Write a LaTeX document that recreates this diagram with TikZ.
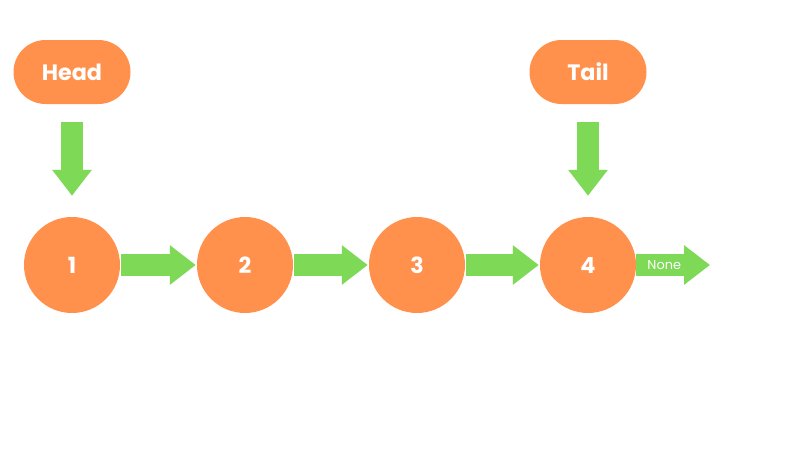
\documentclass[tikz,border=0pt]{standalone}
\usepackage{fontspec}
\setmainfont{Poppins}
\usetikzlibrary{arrows.meta, positioning}
\definecolor{nodeorange}{HTML}{FF914D}
\definecolor{arrowgreen}{HTML}{7ED957}

\begin{document}
\begin{tikzpicture}[x=0.03cm, y=-0.03cm]
    \tikzstyle{every node}=[text=white, font=\bfseries\fontsize{19}{22}\selectfont]
    \tikzstyle{pointer}=[rectangle, rounded corners=0.96cm, fill=nodeorange, minimum width=117*0.03cm, minimum height=64*0.03cm, inner sep=0pt]
    \tikzstyle{listnode}=[circle, fill=nodeorange, minimum size=96*0.03cm, inner sep=0pt]
    \tikzstyle{link}=[draw=arrowgreen, line width=22*0.03cm, -{Triangle[length=26*0.03cm, width=38*0.03cm]}]

    \useasboundingbox[fill=white] (0,0) rectangle (800,449);

    \node[pointer] (head) at (72,72) {Head};
    \node[pointer] (tail) at (588,72) {Tail};

    \foreach \x/\n in {72/1, 245/2, 417/3, 588/4}{
        \node[listnode] (N-\n) at (\x,265) {\n};
    }

    \draw[link, shorten <=18*0.03cm, shorten >=21*0.03cm] (head) -- (N-1);
    \draw[link, shorten <=18*0.03cm, shorten >=21*0.03cm] (tail) -- (N-4);

    \foreach \a/\b in {1/2, 2/3, 3/4}{
        \draw[link, shorten <=1*0.03cm, shorten >=1*0.03cm] (N-\a) -- (N-\b);
    }

    \coordinate (none) at (710,265);
    \draw[link] (N-4) -- (none)
        node[pos=0.38, font=\fontsize{11}{13}\selectfont] (nonelabel) {None};
\end{tikzpicture}
\end{document}
